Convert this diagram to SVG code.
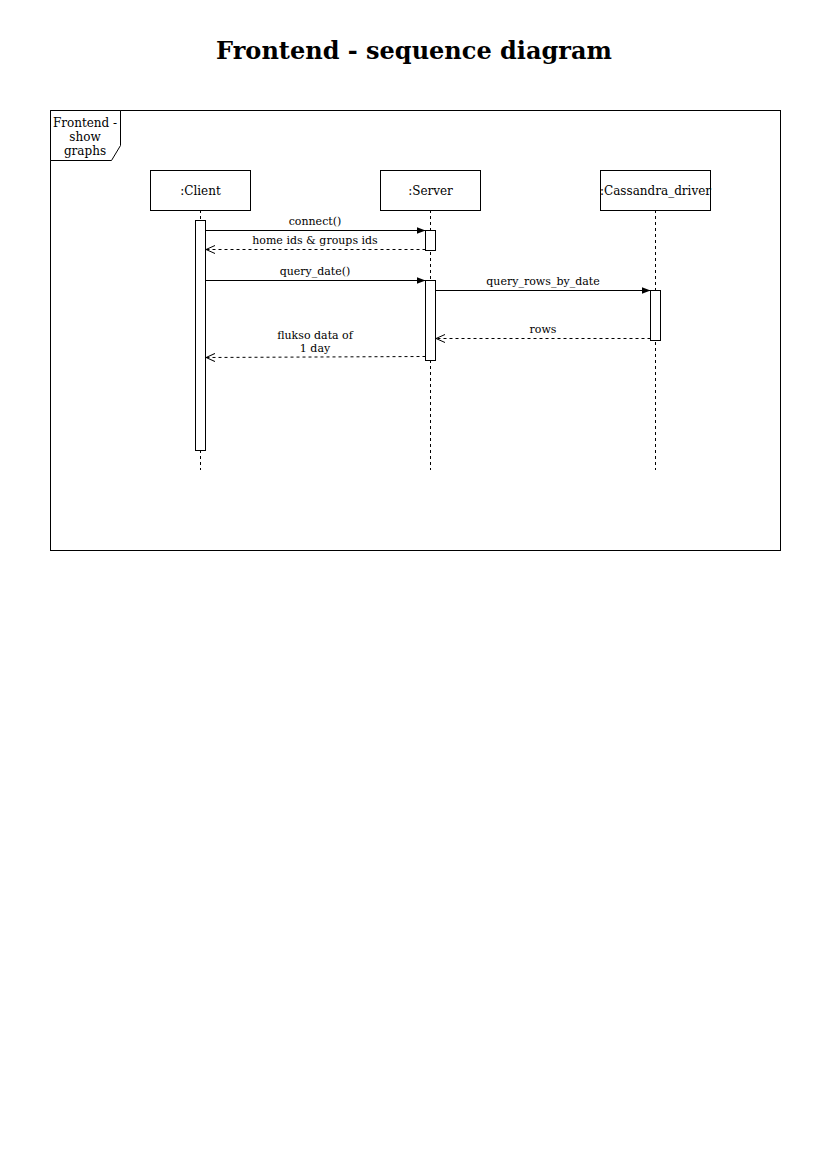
<svg xmlns="http://www.w3.org/2000/svg" width="827" height="1169" viewBox="0 0 827 1169">
  <style>
    text { font-family: "DejaVu Serif", "Liberation Serif", serif; fill: #000; }
    .title { font-size: 24px; font-weight: bold; }
    .lbl { font-size: 12px; }
    .msg { font-size: 11px; }
    .box { fill: #fff; stroke: #000; stroke-width: 1; }
    .life { stroke: #000; stroke-width: 1; stroke-dasharray: 3 3; fill: none; }
    .call { stroke: #000; stroke-width: 1; fill: none; }
    .ret { stroke: #000; stroke-width: 1; stroke-dasharray: 3 3; fill: none; }
  </style>
  <defs>
    <marker id="filled" markerWidth="10" markerHeight="8" refX="9" refY="4" orient="auto" markerUnits="userSpaceOnUse">
      <path d="M0,0.5 L9,4 L0,7.5 Z" fill="#000"/>
    </marker>
    <marker id="open" markerWidth="10" markerHeight="10" refX="9" refY="5" orient="auto" markerUnits="userSpaceOnUse">
      <path d="M0,1 L9,5 L0,9" fill="none" stroke="#000" stroke-width="1"/>
    </marker>
  </defs>
  <rect width="827" height="1169" fill="#fff"/>

  <text class="title" x="414" y="59" text-anchor="middle">Frontend - sequence diagram</text>

  <!-- interaction frame -->
  <g id="frame">
    <rect x="50.5" y="110.5" width="730" height="440" fill="none" stroke="#000"/>
    <path d="M50.5,110.5 H120.5 V145.5 L111.5,160.5 H50.5 Z" fill="#fff" stroke="#000"/>
    <text class="lbl" x="85" y="127" text-anchor="middle">Frontend -</text>
    <text class="lbl" x="85" y="141" text-anchor="middle">show</text>
    <text class="lbl" x="85" y="155" text-anchor="middle">graphs</text>
  </g>

  <!-- lifelines -->
  <g id="client">
    <line class="life" x1="200.5" y1="210" x2="200.5" y2="470"/>
    <rect class="box" x="150.5" y="170.5" width="100" height="40"/>
    <text class="lbl" x="200.5" y="195" text-anchor="middle">:Client</text>
    <rect class="box" x="195.5" y="220.5" width="10" height="230"/>
  </g>
  <g id="server">
    <line class="life" x1="430.5" y1="210" x2="430.5" y2="470"/>
    <rect class="box" x="380.5" y="170.5" width="100" height="40"/>
    <text class="lbl" x="430.5" y="195" text-anchor="middle">:Server</text>
    <rect class="box" x="425.5" y="230.5" width="10" height="20"/>
    <rect class="box" x="425.5" y="280.5" width="10" height="80"/>
  </g>
  <g id="cassandra">
    <line class="life" x1="655.5" y1="210" x2="655.5" y2="470"/>
    <rect class="box" x="600.5" y="170.5" width="110" height="40"/>
    <text class="lbl" x="655.5" y="195" text-anchor="middle">:Cassandra_driver</text>
    <rect class="box" x="650.5" y="290.5" width="10" height="50"/>
  </g>

  <!-- messages -->
  <g id="connectors">
    <line class="call" x1="205.5" y1="230.5" x2="425.5" y2="230.5" marker-end="url(#filled)"/>
    <text class="msg" x="315" y="225" text-anchor="middle">connect()</text>

    <line class="ret" x1="425.5" y1="249.5" x2="206" y2="249.5" marker-end="url(#open)"/>
    <text class="msg" x="315" y="244" text-anchor="middle">home ids &amp; groups ids</text>

    <line class="call" x1="205.5" y1="280.5" x2="425.5" y2="280.5" marker-end="url(#filled)"/>
    <text class="msg" x="315" y="275" text-anchor="middle">query_date()</text>

    <line class="call" x1="435.5" y1="290.5" x2="650.5" y2="290.5" marker-end="url(#filled)"/>
    <text class="msg" x="543" y="285" text-anchor="middle">query_rows_by_date</text>

    <line class="ret" x1="650.5" y1="338.5" x2="436" y2="338.5" marker-end="url(#open)"/>
    <text class="msg" x="543" y="333" text-anchor="middle">rows</text>

    <line class="ret" x1="425.5" y1="356.5" x2="206" y2="357.5" marker-end="url(#open)"/>
    <text class="msg" x="315" y="339" text-anchor="middle">flukso data of</text>
    <text class="msg" x="315" y="352" text-anchor="middle">1 day</text>
  </g>
</svg>
